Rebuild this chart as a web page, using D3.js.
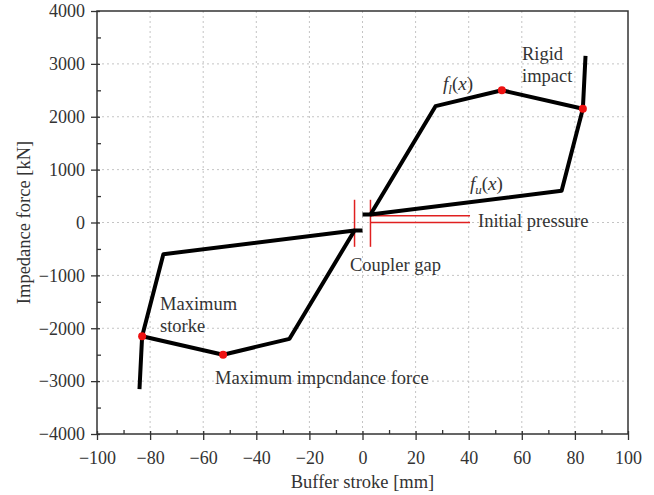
<!DOCTYPE html>
<html>
<head>
<meta charset="utf-8">
<script src="https://cdn.jsdelivr.net/npm/d3@7"></script>
<style>
  html, body { margin: 0; padding: 0; background: #fff; }
  svg text { font-family: "Liberation Serif", "DejaVu Serif", serif; fill: #333; }
</style>
</head>
<body>
<svg id="chart" width="654" height="495"></svg>
<script>
// Buffer characteristic: stroke [mm] vs impedance force [kN]
const xTicks = [-100, -80, -60, -40, -20, 0, 20, 40, 60, 80, 100];
const yTicks = [-4000, -3000, -2000, -1000, 0, 1000, 2000, 3000, 4000];
const xMinor = [-90, -70, -50, -30, -10, 10, 30, 50, 70, 90];
const yMinor = [-3500, -2500, -1500, -500, 500, 1500, 2500, 3500];

// compression branch: loading curve f_l(x) up to rigid impact
const loadUpper = [[0, 150], [3, 150], [27.5, 2200], [52.5, 2500], [83, 2150], [84, 3150]];
// compression branch: unloading curve f_u(x)
const unloadUpper = [[83, 2150], [75, 600], [3, 150]];
// tension branch: loading curve
const loadLower = [[0, -150], [-3, -150], [-27.5, -2200], [-52.5, -2500], [-83, -2150], [-84, -3150]];
// tension branch: unloading curve
const unloadLower = [[-83, -2150], [-75, -600], [-3, -150]];
// marked points: maximum force and maximum stroke
const keyPoints = [[52.5, 2500], [83, 2150], [-52.5, -2500], [-83, -2150]];

// coupler gap and initial pressure markers
const gapX = [-3, 3];
const gapRange = [-460, 430];
const pressureY = [0, 130];
const pressureRange = [3, 40.5];

const svg = d3.select("#chart");
const mLeft = 97, mRight = 628, mTop = 11, mBottom = 434;
const x = d3.scaleLinear().domain([-100, 100]).range([mLeft, mRight]);
const y = d3.scaleLinear().domain([-4000, 4000]).range([mBottom, mTop]);

// grid
const grid = svg.append("g").attr("stroke", "#c4c4c4").attr("stroke-width", 1)
  .attr("stroke-dasharray", "2,3");
grid.selectAll("line.gx").data(xTicks.slice(1, -1)).join("line")
  .attr("x1", d => x(d)).attr("x2", d => x(d)).attr("y1", mTop).attr("y2", mBottom);
grid.selectAll("line.gy").data(yTicks.slice(1, -1)).join("line")
  .attr("y1", d => y(d)).attr("y2", d => y(d)).attr("x1", mLeft).attr("x2", mRight);

// axes
const fmt = d => d < 0 ? "\u2212" + Math.abs(d) : d;
const xAxis = svg.append("g").attr("transform", `translate(0,${mBottom})`)
  .call(d3.axisBottom(x).tickValues(xTicks).tickSize(6).tickPadding(11).tickFormat(fmt));
xAxis.selectAll(".tick line").attr("y1", -3);
const yAxis = svg.append("g").attr("transform", `translate(${mLeft},0)`)
  .call(d3.axisLeft(y).tickValues(yTicks).tickSize(6).tickPadding(6).tickFormat(fmt));
yAxis.selectAll(".tick line").attr("x1", 3);
svg.append("g").attr("transform", `translate(0,${mBottom})`)
  .call(d3.axisBottom(x).tickValues(xMinor).tickSize(-4).tickFormat(""));
svg.append("g").attr("transform", `translate(${mLeft},0)`)
  .call(d3.axisLeft(y).tickValues(yMinor).tickSize(-4).tickFormat(""));
svg.selectAll(".domain").remove();
svg.selectAll(".tick line").attr("stroke", "#333").attr("stroke-width", 1.3);
svg.selectAll(".tick text").attr("font-size", 18).attr("fill", "#333")
  .attr("font-family", "Liberation Serif, serif");

// frame
svg.append("rect").attr("x", mLeft).attr("y", mTop).attr("width", mRight - mLeft).attr("height", mBottom - mTop)
  .attr("fill", "none").attr("stroke", "#333").attr("stroke-width", 1.5);

// axis titles
svg.append("text").attr("x", (mLeft + mRight) / 2).attr("y", 488).attr("text-anchor", "middle")
  .attr("font-size", 18.5).text("Buffer stroke [mm]");
svg.append("text").attr("transform", `translate(30,${(mTop + mBottom) / 2}) rotate(-90)`)
  .attr("text-anchor", "middle").attr("font-size", 18.5).text("Impedance force [kN]");

// markers for coupler gap and initial pressure
const red = svg.append("g").attr("stroke", "#e02020").attr("stroke-width", 1.5);
red.selectAll("line.gap").data(gapX).join("line")
  .attr("x1", d => x(d)).attr("x2", d => x(d)).attr("y1", y(gapRange[0])).attr("y2", y(gapRange[1]));
red.selectAll("line.pr").data(pressureY).join("line")
  .attr("y1", d => y(d)).attr("y2", d => y(d)).attr("x1", x(pressureRange[0])).attr("x2", x(pressureRange[1]));

// curves
const line = d3.line().x(d => x(d[0])).y(d => y(d[1]));
svg.append("g").attr("fill", "none").attr("stroke", "#000").attr("stroke-width", 4)
  .attr("stroke-linejoin", "round")
  .selectAll("path").data([loadUpper, unloadUpper, loadLower, unloadLower]).join("path")
  .attr("d", line);

svg.append("g").attr("fill", "#ee1111").selectAll("circle").data(keyPoints).join("circle")
  .attr("cx", d => x(d[0])).attr("cy", d => y(d[1])).attr("r", 4);

// annotations
const ann = svg.append("g").attr("font-size", 18.5);
function fx(g, px, py, sub) {
  const t = g.append("text").attr("x", px).attr("y", py).attr("font-size", 19);
  t.append("tspan").attr("font-style", "italic").text("f");
  t.append("tspan").attr("font-style", "italic").attr("font-size", 13).attr("dy", 4).text(sub);
  t.append("tspan").attr("dy", -4).text("(");
  t.append("tspan").attr("font-style", "italic").text("x");
  t.append("tspan").text(")");
}
fx(ann, 443, 90, "l");
fx(ann, 470, 190, "u");
ann.append("text").attr("x", 522).attr("y", 60).text("Rigid");
ann.append("text").attr("x", 522).attr("y", 82).text("impact");
ann.append("text").attr("x", 478).attr("y", 227).text("Initial pressure");
ann.append("text").attr("x", 350).attr("y", 271).text("Coupler gap");
ann.append("text").attr("x", 160).attr("y", 310).text("Maximum");
ann.append("text").attr("x", 160).attr("y", 332).text("storke");
ann.append("text").attr("x", 215).attr("y", 384).text("Maximum impcndance force");
</script>
</body>
</html>
